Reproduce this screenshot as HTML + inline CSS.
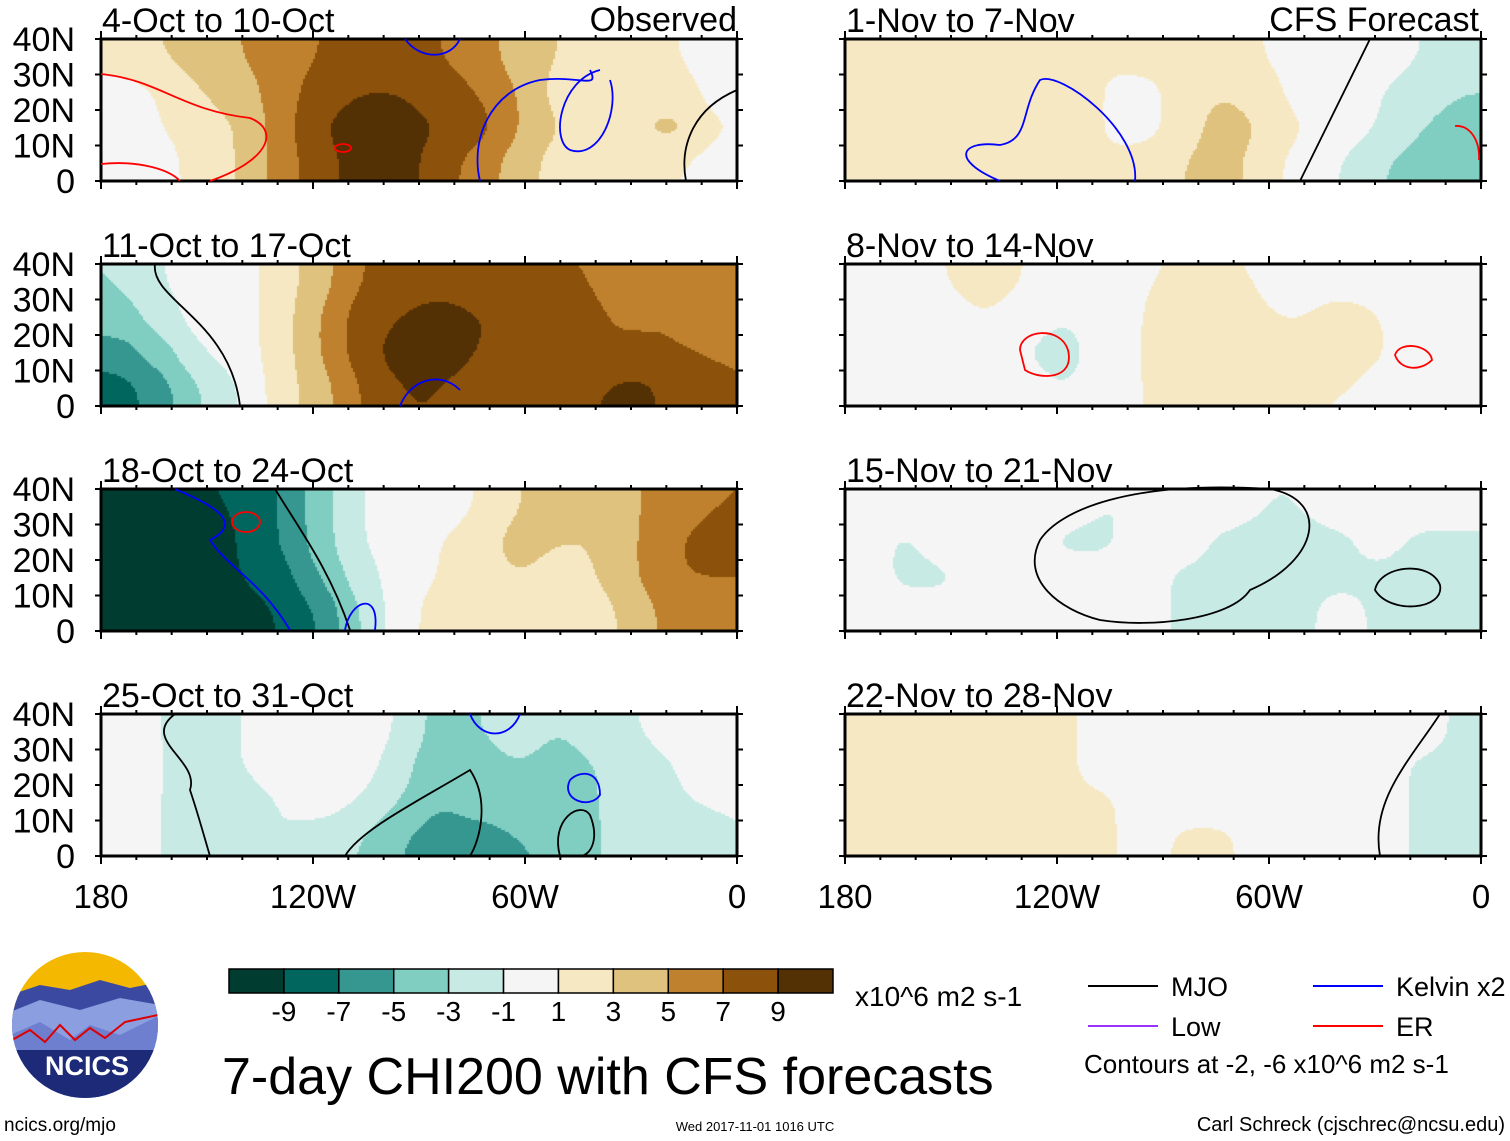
<!DOCTYPE html>
<html><head><meta charset="utf-8">
<style>
body{margin:0;background:#fff;width:1510px;height:1141px;overflow:hidden;position:relative;font-family:"Liberation Sans",Arial,sans-serif}
svg{position:absolute;left:0;top:0}
canvas{position:absolute}
</style></head>
<body>
<div id="fields"></div>
<svg id="main" width="1510" height="1141"></svg>
<script>
const colors=["#003c30","#01665e","#35978f","#80cdc1","#c7eae5","#f5f5f5","#f6e8c3","#dfc27d","#bf812d","#8c510a","#543005"];
const cbarLabels=["-9","-7","-5","-3","-1","1","3","5","7","9"];
const yTickLabels=["40N","30N","20N","10N","0"];
const xTickLabels=["180","120W","60W","0"];
const panelTitles=["4-Oct to 10-Oct","11-Oct to 17-Oct","18-Oct to 24-Oct","25-Oct to 31-Oct","1-Nov to 7-Nov","8-Nov to 14-Nov","15-Nov to 21-Nov","22-Nov to 28-Nov"];
const p1=[[2,3,4,5,6,7,8,8,7,6,4,3,2,2,1,0],[0,1,3,4,6,8,9,9,8,7,5,2,2,2,2,0],[0,1,2,3,6,9,10,10,9,8,5,3,2,3,4,1],[-1,0,2,3,6,8,10,10,8,6,4,2,2,2,1,0]];
const p2=[[-3,-1,0,0,2,4,7,8,8,8,7,7,7,6,7,7],[-4,-2,0,0,2,5,8,9,10,9,9,8,7,7,7,6],[-6,-4,-1,0,2,5,8,10,10,9,8,8,7,7,7,7],[-8,-6,-3,-1,2,4,7,9,9,8,8,8,9,10,8,7]];
const p3=[[-9,-9,-9,-9,-7,-4,-1,0,0,1,3,4,3,5,6,7],[-10,-10,-10,-9,-7,-4,-1,0,1,2,4,3,3,5,7,8],[-10,-10,-10,-9,-8,-5,-2,0,1,2,3,2,3,5,7,7],[-10,-10,-10,-10,-9,-7,-3,0,2,3,2,1,2,4,6,6]];
const p4=[[0,-1,-2,-1,0,0,0,-1,-4,-3,-2,-3,-2,-1,0,0],[1,-1,-2,-1,0,0,0,-2,-5,-4,-3,-4,-3,-2,-1,0],[0,-1,-2,-2,-1,0,-1,-3,-5,-4,-4,-4,-3,-2,-1,-1],[0,-1,-2,-1,-1,-2,-3,-5,-6,-6,-5,-5,-3,-2,-2,-1]];
const p5=[[1,2,2,3,3,2,1,2,2,2,1,0,0,0,-1,-2],[2,2,2,3,3,2,1,0,2,3,2,0,0,-1,-2,-3],[2,3,3,3,3,2,1,0,2,4,3,1,0,-1,-3,-4],[2,3,3,3,3,2,1,2,3,4,2,0,-1,-3,-4,-4]];
const p6=[[0,0,1,2,1,0,0,1,1,1,1,0,0,0,0,0],[0,-1,0,1,0,-1,0,1,2,2,1,1,2,1,0,0],[0,0,0,0,-1,-2,0,1,3,3,2,1,3,1,0,0],[0,0,0,0,0,-1,0,1,2,3,2,1,1,0,0,0]];
const p7=[[0,0,1,1,0,0,-1,-1,0,0,-1,-1,0,0,0,0],[0,-1.5,0,0,0,-1.5,-1.5,0,0,-1.5,-1.5,-1.5,-1.5,0,-1.5,-1.5],[0,-1.5,-1.5,0,0,0,0,0,-1.5,-1.5,-1.5,-1.5,-1.5,-1.5,-3,-1.5],[0,0,0,0,0,0,0,0,-1.5,-1.5,-1.5,-1.5,0,-1.5,-3,-1.5]];
const p8=[[1.5,2,1.5,1.5,1.5,1.5,0,0,0,0,0,0,0,0,0,-1.5],[1.5,2,2,1.5,1.5,1.5,0,0,0,0,0,0,0,0,-1.5,-1.5],[1.5,1.5,2,2,1.5,1.5,1.5,0,0,0,0,0,0,0,-1.5,-2],[1.5,1.5,2,2,2,1.5,1.5,0,1.5,1.5,0,0,0,0,-1.5,-2]];
const fields=[p1,p2,p3,p4,p5,p6,p7,p8];

const NS="http://www.w3.org/2000/svg";
const svg=document.getElementById('main');
function el(tag,attrs,parent){const e=document.createElementNS(NS,tag);for(const k in attrs)e.setAttribute(k,attrs[k]);(parent||svg).appendChild(e);return e;}
function txt(s,x,y,size,anchor,parent){const t=el('text',{x:x,y:y,'font-size':size,'text-anchor':anchor||'start','font-family':'Liberation Sans, Arial, sans-serif',fill:'#000'},parent);t.textContent=s;return t;}
const colX=[101,845], rowY=[39,264,489,714], PW=636, PH=142;
function binIndex(v){return Math.max(0,Math.min(10,Math.floor((v+11)/2)));}
function sample(g,fx,fy){ // gaussian-weighted smooth field
  let s=0,w=0;
  for(let r=0;r<4;r++)for(let c=0;c<16;c++){
    const dx=(c+0.5-fx),dy=(r+0.5-fy)*1.0;const ww=Math.exp(-(dx*dx+dy*dy)/0.55);s+=ww*g[r][c];w+=ww;}
  return s/w;}
const fdiv=document.getElementById('fields');
fields.forEach((g,i)=>{
  const c=i<4?0:1,r=i%4;const x0=colX[c],y0=rowY[r];
  const cv=document.createElement('canvas');cv.width=PW;cv.height=PH;cv.style.left=x0+'px';cv.style.top=y0+'px';
  
  
  fdiv.appendChild(cv);const ctx=cv.getContext('2d');
  for(let py=0;py<PH;py+=2)for(let px=0;px<PW;px+=2){
    const v=sample(g,(px+1)/PW*16,(py+1)/PH*4);ctx.fillStyle=colors[binIndex(v)];ctx.fillRect(px,py,2,2);}
  const gp=el('g',{});
  
  
  el('rect',{x:x0,y:y0,width:PW,height:PH,fill:'none',stroke:'#000','stroke-width':3},gp);
  for(let k=0;k<=18;k++){const x=x0+k*PW/18;const L=k%6==0?8:4;
    el('line',{x1:x,y1:y0,x2:x,y2:y0-L,stroke:'#000','stroke-width':2},gp);
    el('line',{x1:x,y1:y0+PH,x2:x,y2:y0+PH+L,stroke:'#000','stroke-width':2},gp);}
  for(let k=0;k<=4;k++){const y=y0+k*PH/4;
    el('line',{x1:x0,y1:y,x2:x0-6,y2:y,stroke:'#000','stroke-width':2},gp);
    el('line',{x1:x0+PW,y1:y,x2:x0+PW+6,y2:y,stroke:'#000','stroke-width':2},gp);
    if(c==0){txt(yTickLabels[k],75,y+12,34,'end',gp);}
  }
  const tt=txt(panelTitles[i],x0+1,y0-7,34,'start',gp);
  
});
txt('Observed',737,31,34,'end');
txt('CFS Forecast',1479,31,34,'end');
[0,1].forEach(c=>{xTickLabels.forEach((s,k)=>{const t=txt(s,colX[c]+k*PW/3,908,33,'middle');});});
const contours=[
 {d:"M101,74 C160,80 180,110 250,118 C280,130 270,160 210,181",s:"red"},
 {d:"M101,164 C140,160 170,170 180,181",s:"red"},
 {d:"M335,148 a8,4 0 1,0 16,0 a8,4 0 1,0 -16,0",s:"red"},
 {d:"M480,181 C470,140 490,90 540,80 C580,75 600,90 590,70",s:"blue"},
 {d:"M600,70 C560,80 550,140 570,150 C600,160 620,110 610,80",s:"blue"},
 {d:"M405,39 C420,60 450,60 460,39",s:"blue"},
 {d:"M686,181 C680,150 690,110 737,90",s:"black"},
 {d:"M155,264 C150,300 230,320 240,406",s:"black"},
 {d:"M400,406 C410,380 440,370 460,390",s:"blue"},
 {d:"M175,489 C200,500 250,520 210,540 C230,570 260,580 290,630",s:"blue"},
 {d:"M275,489 C300,530 330,570 350,630",s:"black"},
 {d:"M345,630 C350,600 380,590 375,630",s:"blue"},
 {d:"M232,522 a14,10 0 1,0 28,0 a14,10 0 1,0 -28,0",s:"red"},
 {d:"M175,714 C140,740 200,760 190,790 C200,820 205,840 210,856",s:"black"},
 {d:"M345,856 C360,830 420,800 470,770 C490,800 480,840 470,856",s:"black"},
 {d:"M560,856 C550,820 580,800 590,815 C600,840 590,856 580,856",s:"black"},
 {d:"M570,780 C560,800 590,810 600,795 C600,770 580,770 570,780",s:"blue"},
 {d:"M470,714 C480,740 510,740 520,714",s:"blue"},
 {d:"M1000,181 C950,160 960,140 1000,145 C1030,140 1020,110 1040,80 C1060,70 1140,130 1135,181",s:"blue"},
 {d:"M1300,181 C1330,120 1350,80 1370,39",s:"black"},
 {d:"M1455,126 C1470,125 1480,140 1479,160",s:"red"},
 {d:"M1020,350 C1020,330 1060,325 1068,350 C1075,380 1040,380 1025,370 Z",s:"red"},
 {d:"M1395,355 C1400,340 1430,345 1432,360 C1420,372 1400,370 1395,355 Z",s:"red"},
 {d:"M1040,540 C1060,510 1130,480 1270,489 C1330,500 1320,560 1250,590 C1230,620 1150,628 1100,620 C1060,610 1020,580 1040,540 Z",s:"black"},
 {d:"M1375,590 C1380,565 1430,560 1440,585 C1445,610 1390,615 1375,590 Z",s:"black"},
 {d:"M1380,856 C1370,800 1410,760 1440,714",s:"black"}
];
contours.forEach(c=>{const p=el('path',{d:c.d,fill:'none',stroke:c.s,'stroke-width':1.8});
 
 });
const cb=el('g',{});


const cbx=229,cbw=604/11;
colors.forEach((col,k)=>{el('rect',{x:cbx+k*cbw,y:969,width:cbw,height:24,fill:col,stroke:'#000','stroke-width':1.5},cb);});
cbarLabels.forEach((s,k)=>{txt(s,cbx+(k+1)*cbw,1021,28,'middle',cb);});
txt('x10^6 m2 s-1',855,1006,28,'start');
const lg=el('g',{});


[[1088,986,'#000','MJO'],[1313,986,'#0000ff','Kelvin x2'],[1088,1026,'#9933ff','Low'],[1313,1026,'#ff0000','ER']].forEach(a=>{
 el('line',{x1:a[0],y1:a[1],x2:a[0]+70,y2:a[1],stroke:a[2],'stroke-width':2},lg);txt(a[3],a[0]+83,a[1]+10,27,'start',lg);});
txt('Contours at -2, -6 x10^6 m2 s-1',1084,1073,26,'start');
txt('7-day CHI200 with CFS forecasts',222,1094,52,'start');
txt('ncics.org/mjo',4,1131,19,'start');
txt('Wed 2017-11-01 1016 UTC',755,1131,13,'middle');
txt('Carl Schreck (cjschrec@ncsu.edu)',1505,1131,20,'end');
const lo=el('g',{});


const cp=el('clipPath',{id:'lc'},lo);
el('circle',{cx:85,cy:1025,r:73},cp);
const lg2=el('g',{'clip-path':'url(#lc)'},lo);
el('rect',{x:10,y:950,width:150,height:60,fill:'#f5b800'},lg2);
el('path',{d:"M10,995 L40,985 L70,990 L100,980 L130,988 L160,982 L160,1110 L10,1110Z",fill:'#3b4aa0'},lg2);
el('path',{d:"M10,1012 L40,1000 L80,1010 L120,998 L160,1005 L160,1110 L10,1110Z",fill:'#8a9ee0'},lg2);
el('path',{d:"M10,1035 L40,1022 L70,1040 L90,1025 L120,1035 L160,1015 L160,1110 L10,1110Z",fill:'#6f7fd0'},lg2);
el('path',{d:"M10,1050 L160,1050 L160,1110 L10,1110Z",fill:'#1c2a78'},lg2);
el('path',{d:"M12,1040 L30,1030 L45,1042 L60,1025 L75,1040 L90,1028 L105,1038 L125,1022 L158,1015",fill:'none',stroke:'#d00','stroke-width':2},lg2);
const lt=txt('NCICS',87,1075,27,'middle',lo);lt.setAttribute('fill','#fff');lt.setAttribute('font-weight','bold');
</script>
</body></html>
